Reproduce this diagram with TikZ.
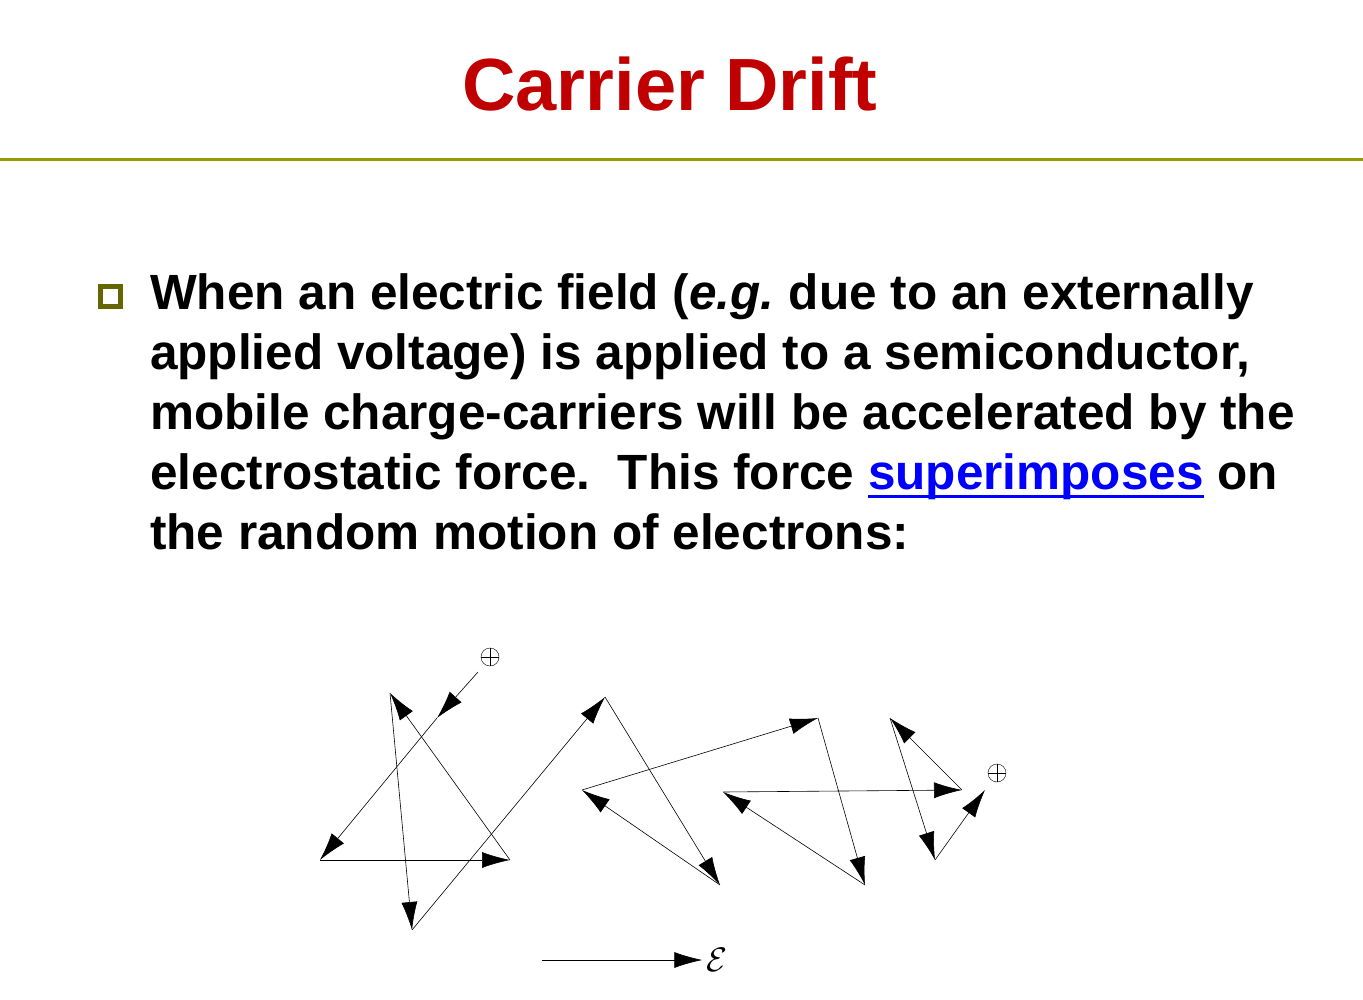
\documentclass[tikz,border=0pt]{standalone}
\usepackage{fontspec}
\setmainfont{Liberation Sans}
\usetikzlibrary{arrows.meta}
\definecolor{titlered}{RGB}{192,0,0}
\definecolor{ruleolive}{RGB}{153,153,0}
\definecolor{bulletolive}{RGB}{102,102,0}
\definecolor{linkblue}{RGB}{0,0,255}
\newcommand{\linkline}[1]{\setbox0\hbox{#1}\rlap{\vrule height -6pt depth 9pt width \wd0}\box0}
\tikzset{
  hop/.style={-{Latex[length=28pt,width=16pt]}, semithick},
  charge/.style={circle, draw, thin, minimum size=18pt, inner sep=0pt,
    path picture={\draw (path picture bounding box.north) -- (path picture bounding box.south)
      (path picture bounding box.west) -- (path picture bounding box.east);}}
}
\begin{document}
\begin{tikzpicture}[x=1pt, y=-1pt]
\useasboundingbox (0,0) rectangle (1363,1000);
% Title and rule
\node[font=\bfseries\fontsize{74}{78}\selectfont, text=titlered] (title) at (670,84) {Carrier Drift};
\draw[ruleolive, line width=3pt] (0,160) -- (1363,160);

% Bullet text
\node[draw=bulletolive, line width=5pt, minimum size=20pt, inner sep=0pt] (bullet) at (110,297) {};
\node[anchor=north west, align=left, inner sep=0pt,
  font=\bfseries\fontsize{49.5}{60}\selectfont] (body) at (150,273)
  {When an electric field (\textit{e.g.}\kern-4pt{} due to an externally\\
   applied voltage) is applied to a semiconductor,\\
   mobile charge-carriers will be accelerated by the\\
   electrostatic force.\ \ This force \textcolor{linkblue}{\linkline{superimposes}} on\\
   the random motion of electrons:};

% Random walk of the carrier
\node[charge] (start) at (490,657) {};
\coordinate (p0) at (478,672);
\coordinate (p1) at (437,718);
\coordinate (p2) at (320,860);
\coordinate (p3) at (510,860);
\coordinate (p4) at (390,693);
\coordinate (p5) at (412,930);
\coordinate (p6) at (605,697);
\coordinate (p7) at (720,885);
\coordinate (p8) at (582,790);
\coordinate (p9) at (818,718);
\coordinate (p10) at (865,885);
\coordinate (p11) at (723,792);
\coordinate (p12) at (962,790);
\coordinate (p13) at (890,718);
\coordinate (p14) at (935,860);
\coordinate (p15) at (985,790);
\node[charge] (finish) at (997,773) {};
\foreach \a/\b in {p0/p1,p1/p2,p2/p3,p3/p4,p4/p5,p5/p6,p6/p7,p7/p8,p8/p9,p9/p10,p10/p11,p11/p12,p12/p13,p13/p14,p14/p15}
  \draw[hop] (\a) -- (\b);

% Field direction
\coordinate (ftail) at (542,960);
\node[inner sep=4pt] (field) at (717,960) {\scalebox{3.4}{$\mathcal{E}$}};
\draw[hop] (ftail) -- (field.west);
\end{tikzpicture}
\end{document}
